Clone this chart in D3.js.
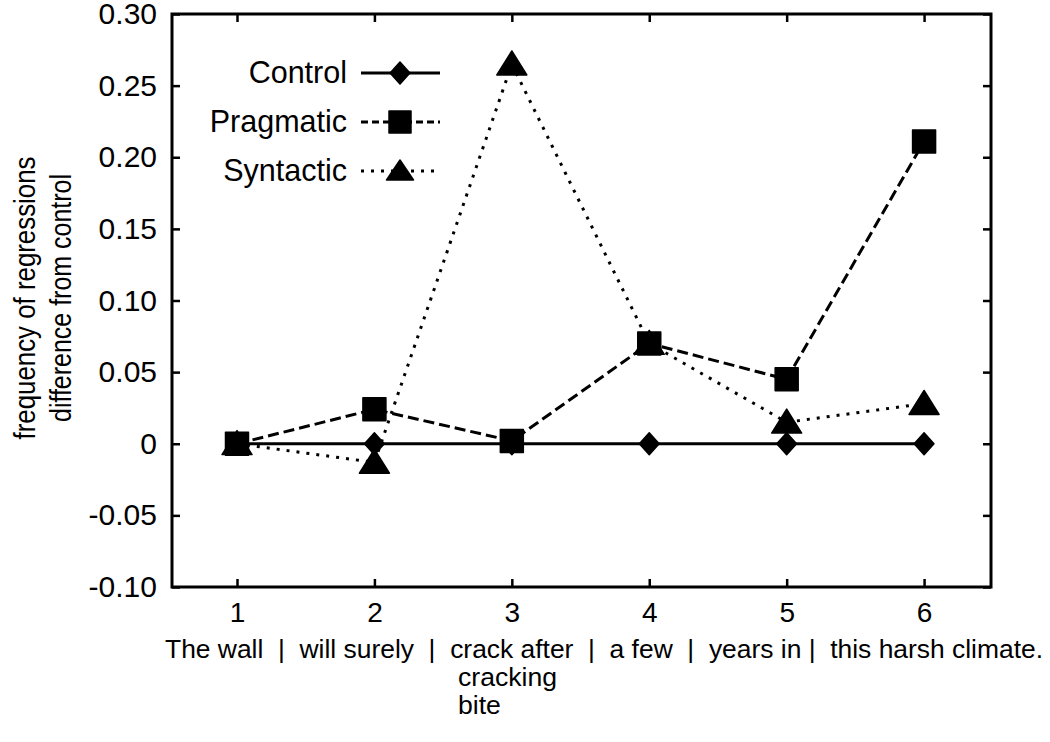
<!DOCTYPE html>
<html>
<head>
<meta charset="utf-8">
<script src="https://cdn.jsdelivr.net/npm/d3@7/dist/d3.min.js"></script>
<style>
  html, body { margin: 0; padding: 0; background: #fff; }
  svg text { font-family: "Liberation Sans", Arial, sans-serif; fill: #000; white-space: pre; }
</style>
</head>
<body>
<svg id="chart" width="1050" height="742"></svg>
<script>
// ---- data ----
const positions = [1, 2, 3, 4, 5, 6];
const controlValues   = [0, 0, 0, 0, 0, 0];
const pragmaticValues = [0.000, 0.024, 0.002, 0.070, 0.045, 0.211];
const syntacticValues = [0.000, -0.013, 0.265, 0.070, 0.015, 0.028];
const seriesNames = ["Control", "Pragmatic", "Syntactic"];
const yTicks = [-0.10, -0.05, 0, 0.05, 0.10, 0.15, 0.20, 0.25, 0.30];
const yTickLabels = ["-0.10", "-0.05", "0", "0.05", "0.10", "0.15", "0.20", "0.25", "0.30"];
const xTickLabels = ["1", "2", "3", "4", "5", "6"];
const regionLine = "The wall  |  will surely  |  crack after  |  a few  |  years in |  this harsh climate.";
const region3Extra = ["cracking", "bite"];
const yTitle = ["frequency of regressions", "difference from control"];

// ---- layout ----
const svg = d3.select("#chart");
const L = 172, R = 991, T = 14, B = 587;
const x = d3.scaleLinear().domain([0.527, 6.487]).range([L, R]);
const y = d3.scaleLinear().domain([-0.10, 0.30]).range([B, T]);

// frame
svg.append("rect").attr("x", L).attr("y", T).attr("width", R - L).attr("height", B - T)
  .attr("fill", "none").attr("stroke", "#000").attr("stroke-width", 3);

const tickLen = 8;
const xAxisB = d3.axisBottom(x).tickValues(positions).tickSize(-tickLen).tickFormat((d, i) => xTickLabels[i]).tickPadding(0);
const gxb = svg.append("g").attr("transform", `translate(0,${B})`).call(xAxisB);
const xAxisT = d3.axisTop(x).tickValues(positions).tickSize(-tickLen).tickFormat("");
const gxt = svg.append("g").attr("transform", `translate(0,${T})`).call(xAxisT);
const yAxisL = d3.axisLeft(y).tickValues(yTicks).tickSize(-tickLen).tickFormat((d, i) => yTickLabels[i]).tickPadding(15);
const gyl = svg.append("g").attr("transform", `translate(${L},0)`).call(yAxisL);
const yAxisR = d3.axisRight(y).tickValues(yTicks).tickSize(-tickLen).tickFormat("");
const gyr = svg.append("g").attr("transform", `translate(${R},0)`).call(yAxisR);
[gxb, gxt, gyl, gyr].forEach(g => {
  g.select(".domain").remove();
  g.selectAll(".tick line").attr("stroke", "#000").attr("stroke-width", 2.5);
  g.selectAll("text").attr("font-family", "Liberation Sans, Arial, sans-serif").attr("fill", "#000");
});
gxb.selectAll("text").attr("font-size", 28).attr("dy", null).attr("y", 35);
gyl.selectAll("text").attr("font-size", 30);

// region labels
svg.append("text").attr("x", 165).attr("y", 658).attr("font-size", 26.6)
  .attr("textLength", 878).attr("lengthAdjust", "spacingAndGlyphs").text(regionLine);
region3Extra.forEach((t, i) => {
  svg.append("text").attr("x", 458).attr("y", 686 + i * 28).attr("font-size", 26.6).text(t);
});

// y title
const yt = svg.append("text").attr("transform", `translate(0,${298}) rotate(-90)`)
  .attr("text-anchor", "middle").attr("font-size", 29);
yt.append("tspan").attr("x", 0).attr("y", 35).attr("textLength", 283).attr("lengthAdjust", "spacingAndGlyphs").text(yTitle[0]);
yt.append("tspan").attr("x", 0).attr("y", 71).attr("textLength", 248).attr("lengthAdjust", "spacingAndGlyphs").text(yTitle[1]);

// markers
const diamond = (s) => `M0,${-s}L${s * 0.9},0L0,${s}L${-s * 0.9},0Z`;
const square = (s) => `M${-s},${-s}H${s}V${s}H${-s}Z`;
const triangle = (w, h) => `M0,${-h * 0.55}L${w / 2},${h * 0.45}L${-w / 2},${h * 0.45}Z`;

const series = [
  { name: seriesNames[0], values: controlValues, dash: null, marker: diamond(11) },
  { name: seriesNames[1], values: pragmaticValues, dash: "11,5", marker: square(11.5) },
  { name: seriesNames[2], values: syntacticValues, dash: "3,7", marker: triangle(30, 24) }
];
const line = d3.line().x((d, i) => x(positions[i])).y(d => y(d));
const drawOrder = [0, 2, 1];
drawOrder.forEach(k => {
  const s = series[k];
  svg.append("path").attr("d", line(s.values)).attr("fill", "none").attr("stroke", "#000")
    .attr("stroke-width", 3).attr("stroke-dasharray", s.dash);
});
drawOrder.forEach(k => {
  const s = series[k];
  svg.selectAll(null).data(s.values).enter().append("path")
    .attr("d", s.marker).attr("transform", (d, i) => `translate(${x(positions[i])},${y(d)})`)
    .attr("fill", "#000").attr("stroke", "#000").attr("stroke-width", 1.5).attr("stroke-linejoin", "round");
});

// legend
const legY = [73, 122, 171];
const legMarkers = [diamond(11), square(11), triangle(27, 20)];
const legDash = [null, "7,4", "3,7"];
series.forEach((s, i) => {
  svg.append("text").attr("x", 347).attr("y", legY[i] + 10).attr("text-anchor", "end")
    .attr("font-size", 30.5).text(s.name);
  svg.append("line").attr("x1", 361).attr("x2", 440).attr("y1", legY[i]).attr("y2", legY[i])
    .attr("stroke", "#000").attr("stroke-width", 3).attr("stroke-dasharray", legDash[i]);
  svg.append("path").attr("d", legMarkers[i]).attr("transform", `translate(400,${legY[i]})`)
    .attr("fill", "#000").attr("stroke", "#000").attr("stroke-width", 1.5).attr("stroke-linejoin", "round");
});
</script>
</body>
</html>
